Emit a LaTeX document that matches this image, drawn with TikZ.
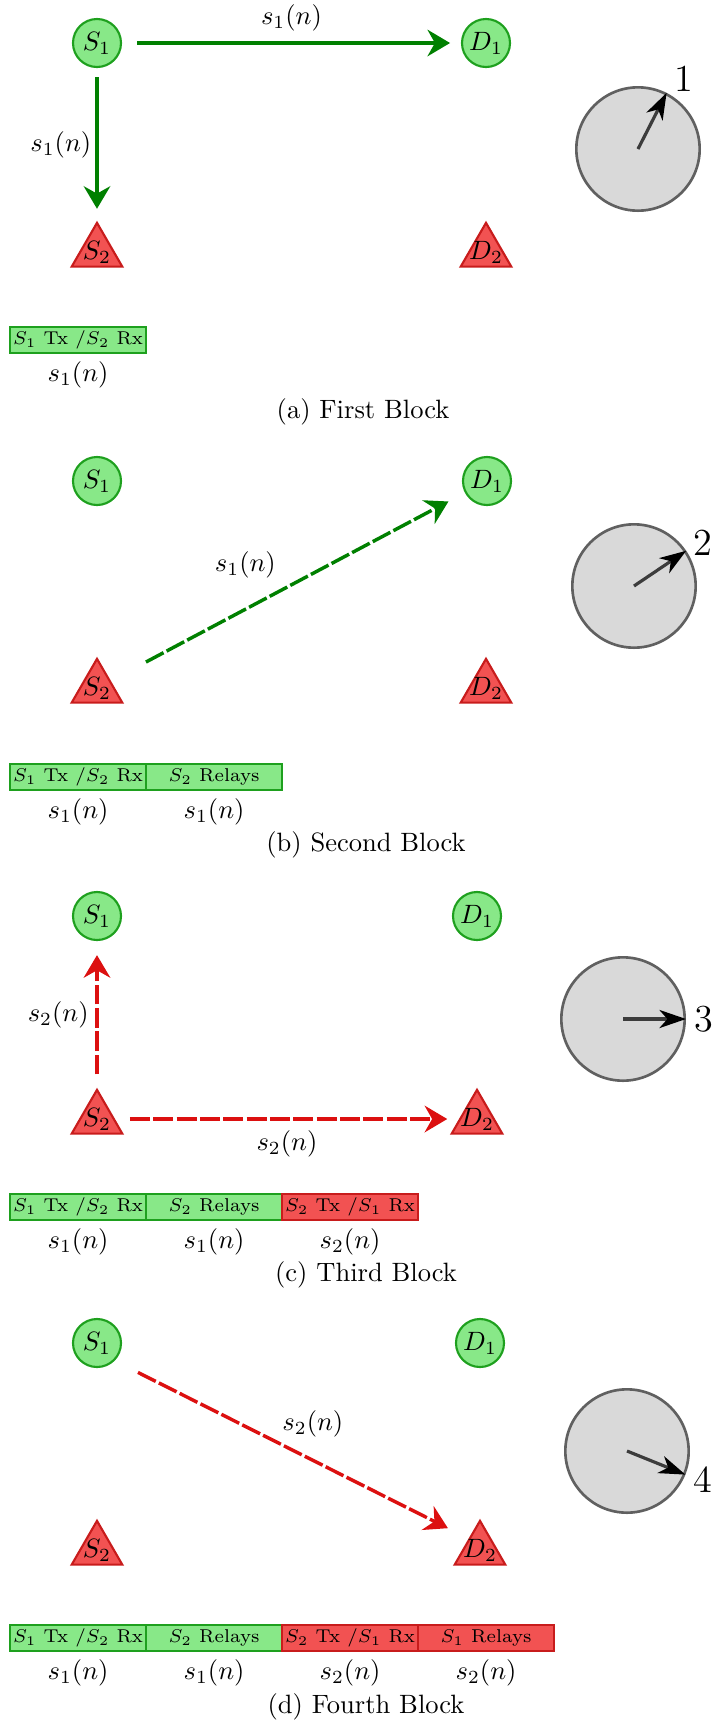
\documentclass[tikz,border=0pt]{standalone}
\usepackage{amsmath}
\usepackage{xcolor}
\usepackage{tikz}
\usetikzlibrary{positioning,arrows.meta,calc,shapes.geometric}

\definecolor{nodegreen}{RGB}{136,232,136}
\definecolor{greenline}{RGB}{30,160,30}
\definecolor{nodered}{RGB}{242,82,82}
\definecolor{redline}{RGB}{200,28,28}
\definecolor{arrowgreen}{RGB}{0,128,0}
\definecolor{arrowred}{RGB}{220,16,16}
\definecolor{clockfill}{RGB}{217,217,217}
\definecolor{clockline}{RGB}{96,96,96}
\definecolor{needlegray}{RGB}{60,60,60}

\begin{document}
\begin{tikzpicture}[x=0.377pt,y=-0.377pt,
  src/.style={circle,draw=greenline,fill=nodegreen,line width=0.8pt,minimum size=18.1pt,inner sep=0pt},
  relay/.style={regular polygon,regular polygon sides=3,draw=redline,fill=nodered,line width=0.8pt,minimum size=22pt,inner sep=0pt,label=center:{#1}},
  glink/.style={draw=arrowgreen,line width=1.3pt,-{Stealth[length=8.5pt,width=10pt,inset=2.8pt]},shorten <=5pt,shorten >=4.5pt},
  rlink/.style={glink,draw=arrowred},
  dashlink/.style={dash pattern=on 7.5pt off 1.3pt},
  sig/.style={inner sep=0pt},
  clockface/.style={circle,draw=clockline,fill=clockfill,line width=1pt,minimum size=46.5pt,inner sep=0pt},
  needle/.style={draw=needlegray,line width=1.2pt,-{Stealth[length=10pt,width=6.8pt,inset=3pt,color=black]}},
  slot/.style={line width=0.8pt,minimum width=51.3pt,minimum height=9.8pt,inner sep=0pt,anchor=north west,font=\scriptsize},
  greenslot/.style={slot,draw=greenline,fill=nodegreen},
  redslot/.style={slot,draw=redline,fill=nodered},
  subcap/.style={font=\normalsize}]
\useasboundingbox (0,0) rectangle (717,1722);

% (a) First block
\node[src] (a-s1) at (97,43) {$S_1$};
\node[src] (a-d1) at (486,43) {$D_1$};
\node[relay=$S_2$] (a-s2) at (97,252) {};
\node[relay=$D_2$] (a-d2) at (486,252) {};
\draw[glink,shorten <=5.7pt,shorten >=4.1pt] (a-s1) -- node[sig,above=4pt] {$s_1(n)$} (a-d1);
\draw[glink,shorten <=3.4pt] (a-s1) -- node[sig,left=1.5pt] {$s_1(n)$} (a-s2);
% clock
\node[clockface] (a-clk) at (638,149) {};
\draw[needle] (a-clk.center) -- (a-clk.63);
\node[font=\Large] at ($(a-clk.center)+(57:31.5pt)$) {1};
% slots
\node[greenslot] (a-b1) at (9,326) {$S_1$ Tx /$S_2$ Rx};
\node[sig,below=2.6pt of a-b1] {$s_1(n)$};
\node[subcap] (a-cap) at (363,412) {(a) First Block};

% (b) Second block
\node[src] (b-s1) at (97,481) {$S_1$};
\node[src] (b-d1) at (487,481) {$D_1$};
\node[relay=$S_2$] (b-s2) at (97,688) {};
\node[relay=$D_2$] (b-d2) at (486,688) {};
\draw[glink,dashlink,shorten <=15pt,shorten >=7pt] (b-s2) -- node[sig,pos=0.38,above=11pt] {$s_1(n)$} (b-d1);
% clock
\node[clockface] (b-clk) at (634,586) {};
\draw[needle] (b-clk.center) -- (b-clk.34);
\node[font=\Large] at ($(b-clk.center)+(32:30.8pt)$) {2};
% slots
\foreach \t/\k/\s [count=\i] in {{$S_1$ Tx /$S_2$ Rx}/greenslot/1,{$S_2$ Relays}/greenslot/1} {
  \node[\k] (b-b\i) at ({9+136*(\i-1)},763) {\t};
  \node[sig,below=2.6pt of b-b\i] {$s_\s(n)$};
}
\node[subcap] (b-cap) at (366,845) {(b) Second Block};

% (c) Third block
\node[src] (c-s1) at (97,916) {$S_1$};
\node[src] (c-d1) at (477,916) {$D_1$};
\node[relay=$S_2$] (c-s2) at (97,1119) {};
\node[relay=$D_2$] (c-d2) at (477,1119) {};
\draw[rlink,dashlink,shorten >=5.3pt] (c-s2) -- node[sig,left=2.5pt] {$s_2(n)$} (c-s1);
\draw[rlink,dashlink,shorten <=5.6pt,shorten >=4.4pt] (c-s2) -- node[sig,below=3.8pt] {$s_2(n)$} (c-d2);
% clock
\node[clockface] (c-clk) at (623,1019) {};
\draw[needle] (c-clk.center) -- (c-clk.0);
\node[font=\Large] at ($(c-clk.center)+(0:30.3pt)$) {3};
% slots
\foreach \t/\k/\s [count=\i] in {{$S_1$ Tx /$S_2$ Rx}/greenslot/1,{$S_2$ Relays}/greenslot/1,{$S_2$ Tx /$S_1$ Rx}/redslot/2} {
  \node[\k] (c-b\i) at ({9+136*(\i-1)},1193) {\t};
  \node[sig,below=2.6pt of c-b\i] {$s_\s(n)$};
}
\node[subcap] (c-cap) at (366,1275) {(c) Third Block};

% (d) Fourth block
\node[src] (d-s1) at (97,1343) {$S_1$};
\node[src] (d-d1) at (480,1343) {$D_1$};
\node[relay=$S_2$] (d-s2) at (97,1550) {};
\node[relay=$D_2$] (d-d2) at (480,1550) {};
\draw[rlink,dashlink,shorten <=9.8pt,shorten >=8.7pt] (d-s1.south east) -- node[sig,pos=0.56,above=8pt] {$s_2(n)$} (d-d2.north west);
% clock
\node[clockface] (d-clk) at (627,1451) {};
\draw[needle] (d-clk.center) -- (d-clk.-22);
\node[font=\Large] at ($(d-clk.center)+(-21:30.5pt)$) {4};
% slots
\foreach \t/\k/\s [count=\i] in {{$S_1$ Tx /$S_2$ Rx}/greenslot/1,{$S_2$ Relays}/greenslot/1,{$S_2$ Tx /$S_1$ Rx}/redslot/2,{$S_1$ Relays}/redslot/2} {
  \node[\k] (d-b\i) at ({9+136*(\i-1)},1624) {\t};
  \node[sig,below=2.6pt of d-b\i] {$s_\s(n)$};
}
\node[subcap] (d-cap) at (366,1707) {(d) Fourth Block};
\end{tikzpicture}
\end{document}
